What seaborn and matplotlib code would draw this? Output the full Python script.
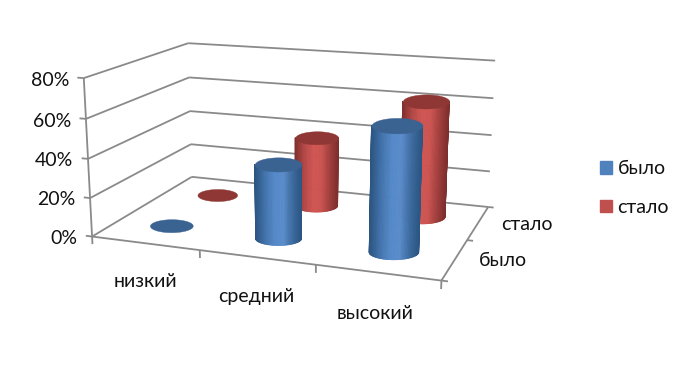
import numpy as np
import pandas as pd
import matplotlib
matplotlib.use('Agg')
import matplotlib.pyplot as plt
from matplotlib.patches import Patch
from mpl_toolkits.mplot3d.art3d import Poly3DCollection, Line3DCollection
import seaborn as sns

# Значения диаграммы
categories = ['низкий', 'средний', 'высокий']
series_names = ['было', 'стало']
bylo = [0, 38, 62]
stalo = [0, 38, 62]
value_ticks = [0, 20, 40, 60, 80]

sns.set_theme(style='white')
plt.rcParams['font.family'] = ['Lato', 'Noto Sans', 'DejaVu Sans']

df = pd.DataFrame({'было': bylo, 'стало': stalo}, index=categories)

# Углы коробки и засечки в пикселях (x, y, z) -> (px, py), по ним считаем камеру
box_corners = [
    (0, 0, 0, 92, 237), (0, 0, 80, 84, 78), (0, 0, 40, 88, 159),
    (3, 0, 0, 442, 281), (1, 0, 0, 200, 250), (2, 0, 0, 315, 264),
    (0, 2, 0, 192, 177), (0, 2, 40, 190, 111), (0, 2, 80, 188, 43),
    (3, 2, 0, 488, 207), (3, 2, 40, 492, 135), (3, 2, 80, 495, 61),
    (3, 1, 0, 467, 240),
]
W, H = 686, 375
rows = []
for x, y, z, px, py in box_corners:
    v = H - py
    rows.append([x, y, z, 1, 0, 0, 0, 0, -px * x, -px * y, -px * z, -px])
    rows.append([0, 0, 0, 0, x, y, z, 1, -v * x, -v * y, -v * z, -v])
P = np.linalg.svd(np.array(rows, dtype=float))[2][-1].reshape(3, 4)
if P[2] @ np.array([1.5, 1, 40, 1]) < 0:
    P = -P
M = np.vstack([P[0], P[1], [0, 1, 0, 0], P[2]])


def project(x, y, z):
    h = P @ np.array([x, y, z, 1.0])
    return h[:2] / h[2]


fig = plt.figure(figsize=(W / 100, H / 100), dpi=100, facecolor='white')
ax = fig.add_axes([0, 0, 1, 1], projection='3d', computed_zorder=False)
ax.set_xticks([])
ax.set_yticks([])
ax.set_zticks([])
ax.set_axis_off()
ax.get_proj = lambda: M
ax.apply_aspect = lambda position=None: None

# Стенки и сетка
segs = []
for v in value_ticks:
    segs.append([(0, 0, v), (0, 2, v)])
    segs.append([(0, 2, v), (3, 2, v)])
    segs.append([(0, 0, v), (-0.06, 0, v)])
segs.append([(0, 0, 0), (0, 0, 80)])
segs.append([(0, 0, 0), (3, 0, 0)])
segs.append([(3, 0, 0), (3, 2, 0)])
for i in range(4):
    segs.append([(i, 0, 0), (i, 0, -4)])
for j in range(3):
    segs.append([(3, j, 0), (3.05, j, 0)])
ax.add_collection3d(Line3DCollection(segs, colors='#8a8a8a', linewidths=1.3, zorder=1))

blue_ramp = sns.blend_palette(['#2c5480', '#3f6fa6', '#5488c8', '#5a8ccb', '#3c6a9e', '#2b5582'], 80)
red_ramp = sns.blend_palette(['#7f2f2d', '#ad4644', '#cf5653', '#cc5451', '#a03f3d', '#7d2e2c'], 80)
caps = {'было': '#3a6392', 'стало': '#8f3735'}
ramps = {'было': blue_ramp, 'стало': red_ramp}
r_x = 0.205
flat = 0.3


def ellipse(cx, cy, z, t):
    # эллипс с горизонтальной большой осью на картинке
    c0 = project(cx, cy, z)
    e1 = project(cx + 0.1, cy, z) - c0
    e2 = project(cx, cy + 0.1, z) - c0
    J = np.linalg.inv(np.column_stack([e1, e2])) * 0.1
    a = r_x * np.linalg.norm(e1) / 0.1
    off = J @ np.vstack([a * np.cos(t), a * flat * np.sin(t)])
    return cx + off[0], cy + off[1]


def cylinder(cx, cy, value, name, z):
    t = np.linspace(np.pi, 2 * np.pi, 61)
    if value > 0:
        x0, y0 = ellipse(cx, cy, 0, t)
        x1, y1 = ellipse(cx, cy, value, t)
        X = np.vstack([x0, x1])
        Y = np.vstack([y0, y1])
        Z = np.vstack([np.zeros_like(t), np.full_like(t, value)])
        s = (np.cos(t[:-1] + np.pi / 120) + 1) / 2
        cols = np.array([ramps[name][int(k * 79.999)] for k in s])[None, :, :]
        cols = np.concatenate([cols, np.ones((1, 60, 1))], axis=2)
        ax.plot_surface(X, Y, Z, facecolors=cols, shade=False, rstride=1, cstride=1,
                        linewidth=0.6, zorder=z)
    # верхняя крышка
    tt = np.linspace(0, 2 * np.pi, 61)
    xc, yc = ellipse(cx, cy, value, tt)
    verts = [list(zip(xc, yc, np.full_like(tt, value)))]
    ax.add_collection3d(Poly3DCollection(verts, facecolor=caps[name], edgecolor=caps[name],
                                         linewidth=0.3, zorder=z + 0.5))


# сначала дальний ряд, потом ближний
z = 3
for j, name in reversed(list(enumerate(series_names))):
    for i, cat in enumerate(categories):
        cylinder(i + 0.5, j + 0.5, df.loc[cat, name], name, z)
        z += 1


# Подписи: позиция считается через ту же камеру
def label(x, y, z, s):
    u, v = project(x, y, z)
    fig.text(u / W, v / H, s, ha='center', va='center', fontsize=font, color='#111111')


font = 14
for v in value_ticks:
    u, w = project(-0.14, 0, v - 1.8)
    fig.text(u / W, w / H, f'{v}%', ha='right', va='center', fontsize=font, color='#111111')
for i, cat in enumerate(categories):
    label(i + 0.49, 0, -20, cat)
for j, name in enumerate(series_names):
    label(3.38 + 0.04 * j, j + 0.5, 2, name)

handles = [Patch(color='#4f81bd', label='было'), Patch(color='#c0504d', label='стало')]
fig.legend(handles=handles, loc='center left', bbox_to_anchor=(582 / W, 1 - 188 / H), frameon=False,
           fontsize=font, handlelength=0.62, handleheight=0.62, handletextpad=0.3, labelspacing=1.12,
           labelcolor='#111111')

ax.set_xlim(0, 3)
ax.set_ylim(0, 2)
ax.set_zlim(0, 80)
# 2D-окно осей в пикселях картинки
ax.viewLim.intervalx = (0, W)
ax.viewLim.intervaly = (0, H)

fig.savefig('out.png', dpi=100)
